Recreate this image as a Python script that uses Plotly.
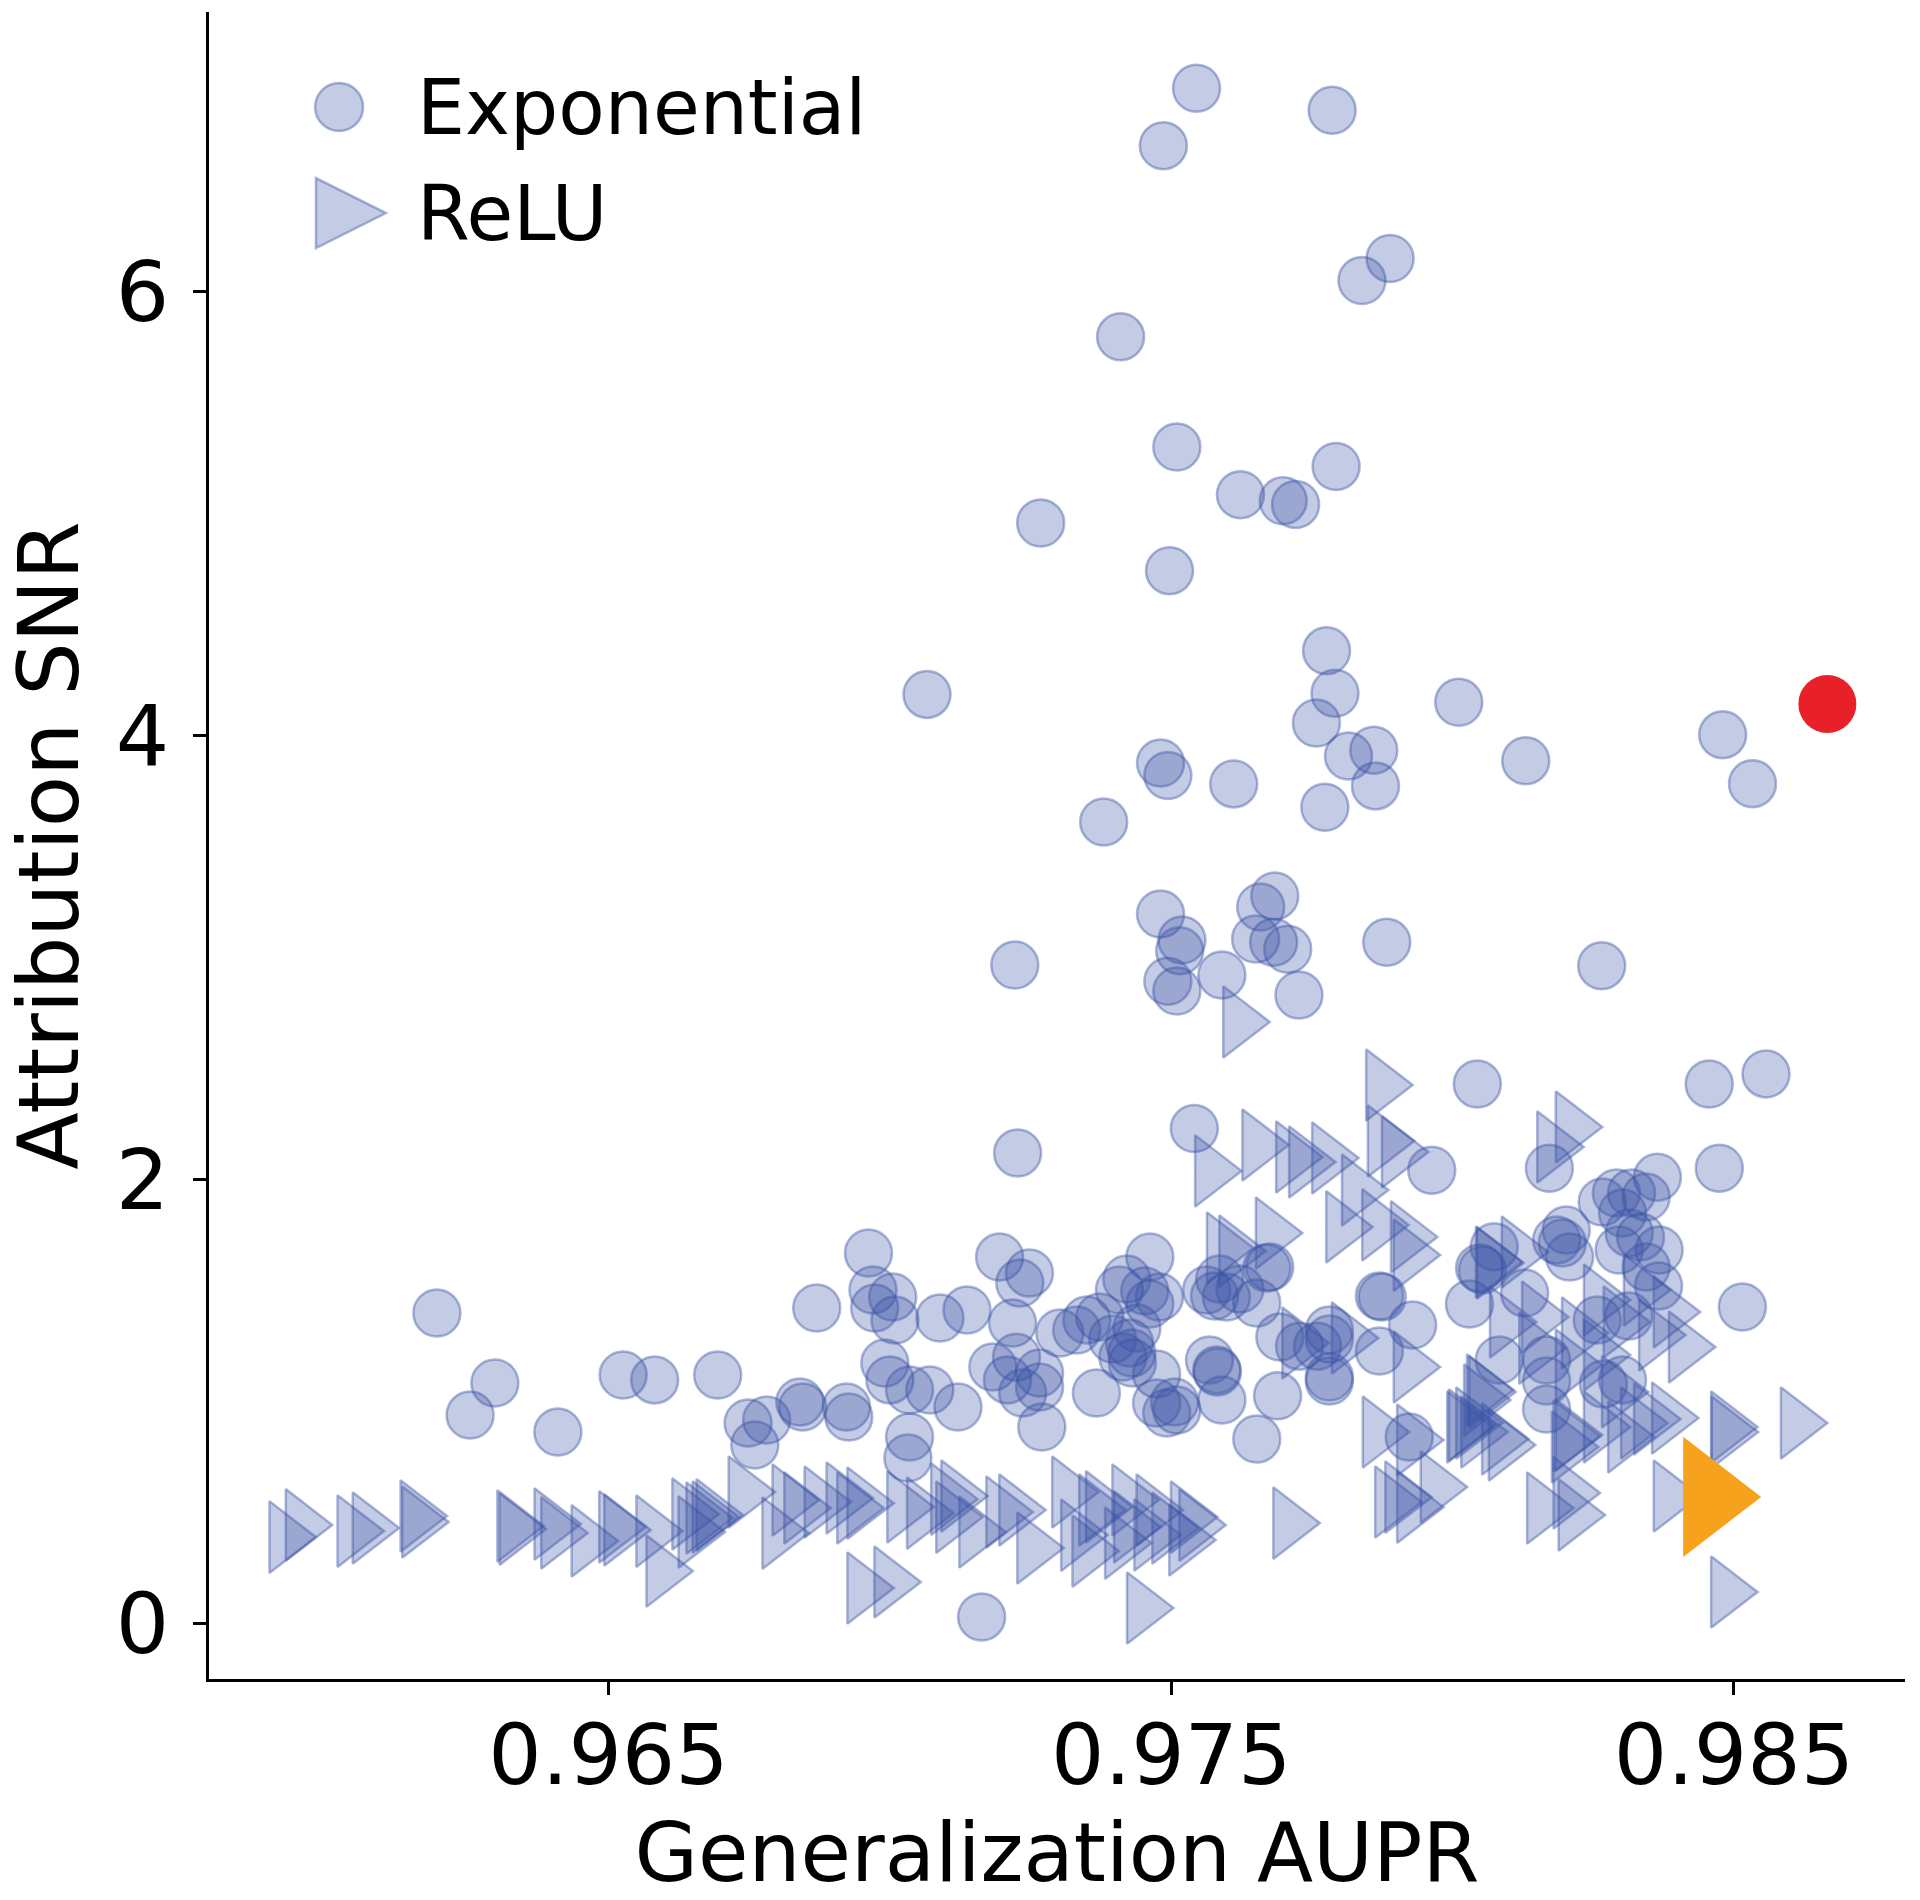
import plotly.graph_objects as go

# ---------------- data ----------------
exp_x = [
    0.97545, 0.97786, 0.97486, 0.97889, 0.97839, 0.97410, 0.97510, 0.97793, 0.97623, 0.97699,
    0.97721, 0.97268, 0.97497, 0.97776, 0.97791, 0.97066, 0.98011, 0.97758, 0.98480, 0.97860,
    0.97815, 0.97481, 0.98130, 0.97494, 0.97611, 0.97863, 0.98533, 0.97773, 0.97380, 0.97684,
    0.97659, 0.97481, 0.97519, 0.97883, 0.97650, 0.97682, 0.97707, 0.97515, 0.97222, 0.98265,
    0.97590, 0.97494, 0.97510, 0.97727, 0.98557, 0.98456, 0.98044, 0.97541, 0.97227, 0.97963,
    0.98474, 0.98172, 0.98364, 0.98515,
    0.96195, 0.96298, 0.96254, 0.96410, 0.96526, 0.96582, 0.96694, 0.96748, 0.96760, 0.96781,
    0.96840, 0.96845, 0.96870, 0.96923, 0.96927, 0.96962, 0.96970, 0.96973, 0.97005, 0.96991,
    0.97000, 0.97009, 0.97035, 0.97032, 0.97035, 0.97089, 0.97121, 0.97137, 0.97183, 0.97195,
    0.97218, 0.97248, 0.97231, 0.97209, 0.97236, 0.97266, 0.97270, 0.97302, 0.97332, 0.97367,
    0.97373, 0.97426, 0.97408, 0.97462, 0.97431, 0.97474, 0.97492, 0.97163, 0.97421, 0.97453,
    0.97462, 0.97439, 0.97430, 0.97474, 0.97506, 0.97577, 0.97586, 0.97622, 0.97670, 0.97568,
    0.97582, 0.97590, 0.97652, 0.97689, 0.97728, 0.97760, 0.97781, 0.97781, 0.97870, 0.97870,
    0.97929, 0.98030, 0.98074, 0.98048, 0.98083, 0.98167, 0.98167, 0.98185, 0.98202, 0.97923,
    0.98266, 0.98291, 0.98318, 0.98302, 0.98344, 0.98314, 0.98367, 0.98344, 0.98208, 0.98296,
    0.98128, 0.98257, 0.98302, 0.97479, 0.97563, 0.97598, 0.97675, 0.97652, 0.97581, 0.97510,
    0.97781, 0.97781, 0.97693, 0.97875, 0.98053, 0.98167, 0.98195, 0.97396, 0.97225, 0.97266,
    0.97350, 0.97414, 0.97071, 0.98313, 0.98268, 0.98366, 0.98334,
]
exp_y = [
    6.915, 6.815, 6.656, 6.148, 6.049, 5.795, 5.299, 5.211, 5.084, 5.057,
    5.040, 4.957, 4.742, 4.381, 4.190, 4.185, 4.150, 4.056, 4.003, 3.934,
    3.908, 3.876, 3.886, 3.820, 3.782, 3.773, 3.783, 3.677, 3.610, 3.277,
    3.228, 3.196, 3.079, 3.069, 3.083, 3.069, 3.037, 3.030, 2.966, 2.963,
    2.921, 2.893, 2.849, 2.831, 2.476, 2.430, 2.430, 2.230, 2.120, 2.042,
    2.051, 2.051, 2.010, 1.426,
    1.399, 1.084, 0.940, 0.863, 1.120, 1.098, 1.120, 0.904, 0.805, 0.917,
    0.998, 0.976, 1.422, 0.976, 0.931, 1.669, 1.503, 1.422, 1.471, 1.174,
    1.098, 1.368, 0.841, 0.746, 1.052, 1.377, 0.976, 1.413, 1.156, 1.651,
    1.354, 1.579, 1.534, 1.098, 1.039, 1.129, 0.886, 1.309, 1.323, 1.039,
    1.381, 1.264, 1.503, 1.651, 1.174, 0.994, 0.949, 0.030, 1.552, 1.498,
    1.440, 1.332, 1.219, 1.124, 0.998, 1.476, 1.552, 1.507, 1.602, 1.188,
    1.133, 1.007, 0.832, 1.026, 1.250, 1.250, 1.093, 1.282, 1.476, 1.228,
    1.345, 1.440, 1.697, 1.602, 1.188, 1.093, 0.967, 1.728, 1.773, 0.841,
    1.899, 1.940, 1.940, 1.850, 1.922, 1.760, 1.683, 1.606, 1.651, 1.683,
    1.489, 1.368, 1.098, 1.471, 1.503, 1.471, 1.606, 1.444, 1.143, 0.962,
    1.111, 1.323, 1.291, 1.471, 1.593, 1.188, 1.714, 1.282, 1.200, 1.066,
    1.368, 1.201, 1.052, 1.386, 1.079, 1.521, 1.742,
]

relu_x = [
    0.95925, 0.95954, 0.96046, 0.96073, 0.96158, 0.96161, 0.96330, 0.96334, 0.96396, 0.96408,
    0.96462, 0.96511, 0.96520, 0.96577, 0.96595, 0.96641, 0.96652, 0.96666, 0.96677, 0.96741,
    0.96684,
    0.96801, 0.96819, 0.96840, 0.96876, 0.96915, 0.96934, 0.96952, 0.96952, 0.97000, 0.97023,
    0.97058, 0.97101, 0.97119, 0.97151, 0.97199, 0.97222, 0.97254, 0.97316, 0.97332, 0.97352,
    0.97376, 0.97423, 0.97410, 0.97449, 0.97494, 0.97527, 0.97542, 0.97709,
    0.97890, 0.97908, 0.97929, 0.97971, 0.98160, 0.98216, 0.98207, 0.98385, 0.98487,
    0.97868, 0.98021, 0.98034, 0.98080, 0.98048, 0.98207, 0.98304, 0.98382, 0.98487, 0.98611,
    0.98211, 0.98178, 0.98115, 0.98069, 0.98151, 0.98222, 0.98412, 0.98385, 0.98488, 0.98350,
    0.98327, 0.98211, 0.98057,
    0.97570, 0.97591, 0.97613, 0.97678, 0.97714, 0.97737, 0.97778, 0.97803, 0.97831, 0.97867,
    0.97902, 0.97918, 0.97923, 0.98071,
    0.97725, 0.97813, 0.97923, 0.97929, 0.98018, 0.98043, 0.98053, 0.98146, 0.98211, 0.98261,
    0.97620, 0.97874, 0.97877, 0.97654,
    0.97426, 0.97462, 0.97524, 0.97110, 0.97364, 0.97466,
    0.98094, 0.98261, 0.98296, 0.98332, 0.98359, 0.98261, 0.98293, 0.98204, 0.98092,
]
relu_y = [
    0.390, 0.445, 0.417, 0.431, 0.485, 0.458, 0.440, 0.426, 0.449, 0.409,
    0.373, 0.436, 0.422, 0.417, 0.237, 0.494, 0.413, 0.476, 0.480, 0.593,
    0.490,
    0.408, 0.557, 0.521, 0.548, 0.566, 0.521, 0.543, 0.161, 0.188, 0.526,
    0.498, 0.561, 0.575, 0.413, 0.503, 0.512, 0.341, 0.593, 0.399, 0.327,
    0.526, 0.557, 0.363, 0.071, 0.431, 0.480, 0.444, 0.453,
    0.548, 0.570, 0.525, 0.616, 0.521, 0.490, 0.589, 0.575, 0.143,
    0.863, 0.895, 0.904, 0.832, 1.007, 0.845, 0.841, 0.926, 0.886, 0.904,
    2.237, 2.147, 1.674, 1.629, 1.381, 1.309, 1.246, 1.404, 0.863, 0.922,
    0.904, 0.850, 1.044,
    2.039, 1.692, 1.678, 1.759, 2.102, 2.079, 2.097, 1.787, 1.953, 1.796,
    2.124, 1.742, 1.660, 1.624,
    1.264, 1.287, 1.156, 0.827, 0.886, 0.863, 1.052, 1.241, 1.165, 0.886,
    2.710, 2.426, 2.174, 2.156,
    0.436, 0.400, 0.377, 0.480, 0.512, 0.512,
    1.359, 1.458, 1.359, 1.503, 1.300, 1.210, 1.044, 0.796, 0.805,
]

best_exp_x = [0.98666]
best_exp_y = [4.142]
best_relu_x = [0.98456]
best_relu_y = [0.571]

series_names = ["Exponential", "ReLU"]
x_tick_vals = [0.965, 0.975, 0.985]
x_tick_text = ["0.965", "0.975", "0.985"]
y_tick_vals = [0, 2, 4, 6]
y_tick_text = ["0", "2", "4", "6"]
x_label = "Generalization AUPR"
y_label = "Attribution SNR"

# ---------------- styling ----------------
FONT = "DejaVu Sans"
BLUE_FILL = "rgba(58,83,164,0.30)"
BLUE_LINE = "rgba(58,83,164,0.42)"
RED = "#e8202a"
ORANGE = "#f6a21c"

fig = go.Figure()
fig.add_trace(go.Scatter(
    x=exp_x, y=exp_y, mode="markers", name=series_names[0], showlegend=False,
    marker=dict(symbol="circle", size=47, color=BLUE_FILL,
                line=dict(color=BLUE_LINE, width=2.5)),
))
fig.add_trace(go.Scatter(
    x=relu_x, y=relu_y, mode="markers", name=series_names[1], showlegend=False,
    marker=dict(symbol="triangle-right", size=62, color=BLUE_FILL,
                line=dict(color=BLUE_LINE, width=2.5)),
))
fig.add_trace(go.Scatter(
    x=best_exp_x, y=best_exp_y, mode="markers", showlegend=False, name="best Exponential",
    marker=dict(symbol="circle", size=58, color=RED, line=dict(width=0)),
))
fig.add_trace(go.Scatter(
    x=best_relu_x, y=best_relu_y, mode="markers", showlegend=False, name="best ReLU",
    marker=dict(symbol="triangle-right", size=104, color=ORANGE, line=dict(width=0)),
))

# ---------------- custom legend (large keys, as in the reference) ----------------
leg_key_x = 0.0767
leg_rows_y = [0.9430, 0.8794]
fig.add_shape(type="circle", xref="paper", yref="paper",
              xsizemode="pixel", ysizemode="pixel",
              xanchor=leg_key_x, yanchor=leg_rows_y[0],
              x0=-24, x1=24, y0=-24, y1=24,
              fillcolor=BLUE_FILL, line=dict(color=BLUE_LINE, width=2.5))
fig.add_shape(type="path", xref="paper", yref="paper",
              xsizemode="pixel", ysizemode="pixel",
              xanchor=leg_key_x + 0.007, yanchor=leg_rows_y[1],
              path="M -35,-35 L 35,0 L -35,35 Z",
              fillcolor=BLUE_FILL, line=dict(color=BLUE_LINE, width=2.5))
for name, yy in zip(series_names, leg_rows_y):
    fig.add_annotation(text=name, xref="paper", yref="paper", x=0.1215, y=yy,
                       xanchor="left", yanchor="middle", showarrow=False,
                       font=dict(family=FONT, size=76, color="black"))

axis_common = dict(
    showline=True, linecolor="black", linewidth=3, mirror=False,
    ticks="outside", ticklen=13, tickwidth=3, tickcolor="black",
    showgrid=False, zeroline=False,
    tickfont=dict(family=FONT, size=84, color="black"),
)

fig.update_layout(
    width=1920, height=1900,
    margin=dict(l=209, r=15, t=12, b=221, autoexpand=False),
    paper_bgcolor="white", plot_bgcolor="white",
    font=dict(family=FONT, color="black"),
    xaxis=dict(range=[0.9579, 0.98804], tickvals=x_tick_vals, ticktext=x_tick_text,
               title=dict(text=x_label, font=dict(family=FONT, size=82), standoff=60),
               ticklabelstandoff=-12, **axis_common),
    yaxis=dict(range=[-0.249, 7.258], tickvals=y_tick_vals, ticktext=y_tick_text,
               title=dict(text=y_label, font=dict(family=FONT, size=84), standoff=60),
               ticklabelstandoff=7, **axis_common),
)

# remove the browser's default 8 px page margin so the figure fills the window exactly
fig.write_html(
    "out.html",
    config={"displayModeBar": False},
    post_script="document.body.style.margin='0';document.documentElement.style.overflow='hidden';",
)
